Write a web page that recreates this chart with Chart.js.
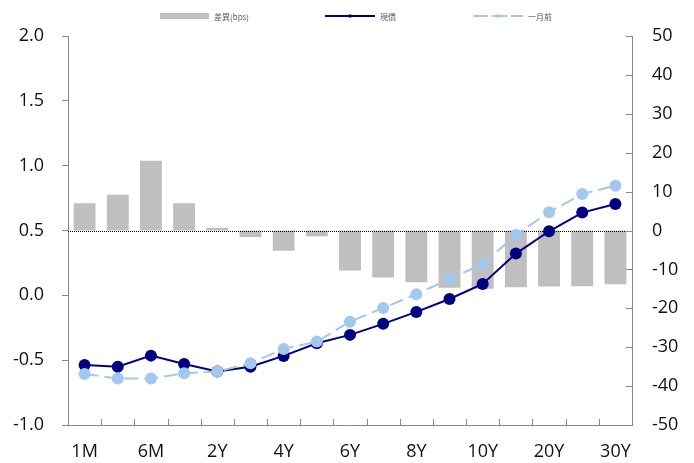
<!DOCTYPE html>
<html>
<head>
<meta charset="utf-8">
<script src="https://cdn.jsdelivr.net/npm/chart.js@4/dist/chart.umd.min.js"></script>
<style>
  html, body { margin: 0; padding: 0; background: #fff; }
  #wrap { position: relative; width: 694px; height: 463px; }
  #legend { position: absolute; top: 0; left: 0; width: 694px; height: 32px;
            font-family: "Noto Sans CJK TC", "Noto Sans", sans-serif; font-size: 8px; color: #595959; }
  .item { position: absolute; top: 9px; height: 14px; display: flex; align-items: center; }
  .item svg { margin-right: 5px; }
</style>
</head>
<body>
<div id="wrap">
  <canvas id="chart"></canvas>
  <div id="legend"></div>
</div>
<script>
// tenors and yields (%), spread in bps
const tenors = ["1M", "3M", "6M", "1Y", "2Y", "3Y", "4Y", "5Y", "6Y", "7Y", "8Y", "9Y", "10Y", "15Y", "20Y", "25Y", "30Y"];
const spreadBps = [7.0, 9.2, 17.9, 7.0, 0.7, -1.7, -5.2, -1.5, -10.3, -12.1, -13.3, -14.7, -15.0, -14.6, -14.4, -14.3, -13.8];
const currentYield = [-0.537, -0.550, -0.465, -0.529, -0.588, -0.550, -0.467, -0.370, -0.305, -0.220, -0.128, -0.028, 0.088, 0.322, 0.494, 0.638, 0.705];
const monthAgoYield = [-0.606, -0.642, -0.642, -0.600, -0.588, -0.524, -0.413, -0.357, -0.203, -0.097, 0.008, 0.127, 0.240, 0.466, 0.641, 0.782, 0.846];
const seriesNames = ["差異(bps)", "現價", "一月前"];

const AXIS = "#888888";
const FONT = { family: "'Open Sans', sans-serif", size: 18 };

// short ticks on the inner side of the right and bottom axes, plus the dotted zero line
const innerTicks = {
  id: "innerTicks",
  afterDatasetDraw(chart, args) {
    if (args.index !== 0) return;
    const { ctx, chartArea } = chart;
    const y0 = chart.scales.yR.getPixelForValue(0);
    ctx.save();
    ctx.strokeStyle = "#000";
    ctx.lineWidth = 1;
    ctx.setLineDash([1, 1]);
    ctx.beginPath();
    ctx.moveTo(chartArea.left, Math.round(y0) + 0.5);
    ctx.lineTo(chartArea.right, Math.round(y0) + 0.5);
    ctx.stroke();
    ctx.restore();
  },
  afterDraw(chart) {
    const { ctx } = chart;
    const x = chart.scales.x, yR = chart.scales.yR;
    ctx.save();
    ctx.strokeStyle = AXIS;
    ctx.lineWidth = 1;
    ctx.beginPath();
    for (let i = 0; i <= tenors.length; i++) {
      const px = Math.round(x.getPixelForValue(i - 0.5)) + 0.5;
      ctx.moveTo(px, x.top);
      ctx.lineTo(px, x.top - 6);
    }
    yR.ticks.forEach(t => {
      const py = Math.round(yR.getPixelForValue(t.value)) + 0.5;
      ctx.moveTo(yR.left, py);
      ctx.lineTo(yR.left - 6, py);
    });
    ctx.stroke();
    ctx.restore();
  }
};

const chart = new Chart(document.getElementById("chart"), {
  type: "bar",
  data: {
    labels: tenors,
    datasets: [
      {
        type: "bar",
        label: seriesNames[0],
        data: spreadBps,
        yAxisID: "yR",
        backgroundColor: "#BFBFBF",
        barPercentage: 0.66,
        categoryPercentage: 1,
        order: 3,
      },
      {
        type: "line",
        label: seriesNames[1],
        data: currentYield,
        yAxisID: "yL",
        borderColor: "#000080",
        backgroundColor: "#000080",
        borderWidth: 2,
        pointRadius: 6,
        pointBorderWidth: 0,
        tension: 0,
        order: 2,
      },
      {
        type: "line",
        label: seriesNames[2],
        data: monthAgoYield,
        yAxisID: "yL",
        borderColor: "#A3C8EE",
        backgroundColor: "#A3C8EE",
        borderWidth: 2,
        borderDash: [14, 6],
        pointRadius: 6,
        pointBorderWidth: 0,
        tension: 0,
        order: 1,
      },
    ],
  },
  options: {
    responsive: true,
    maintainAspectRatio: false,
    animation: false,
    layout: { padding: { top: 36 } },
    plugins: { legend: { display: false }, tooltip: { enabled: false } },
    scales: {
      x: {
        offset: true,
        grid: { display: false },
        border: { display: true, color: AXIS },
        ticks: {
          autoSkip: false,
          maxRotation: 0,
          padding: 8,
          color: "#111",
          font: FONT,
          callback: (v, i) => (i % 2 === 0 ? tenors[i] : ""),
        },
        afterFit: s => { s.height = 38; },
      },
      yL: {
        position: "left",
        min: -1,
        max: 2,
        grid: { display: true, drawOnChartArea: false, tickLength: 6, color: AXIS },
        border: { display: true, color: AXIS },
        ticks: { stepSize: 0.5, padding: 18, color: "#111", font: FONT, callback: v => v.toFixed(1) },
        afterFit: s => { s.width = 68; },
      },
      yR: {
        position: "right",
        min: -50,
        max: 50,
        grid: { display: false, drawTicks: false },
        border: { display: true, color: AXIS },
        ticks: { stepSize: 10, padding: 20, color: "#111", font: FONT },
        afterFit: s => { s.width = 62; },
      },
    },
  },
  plugins: [innerTicks],
});

// legend
const legendSymbols = [
  '<svg width="49" height="6"><rect x="0" y="0" width="49" height="6" fill="#BFBFBF"/></svg>',
  '<svg width="50" height="6"><line x1="0" y1="3" x2="50" y2="3" stroke="#000080" stroke-width="2"/><circle cx="25" cy="3" r="1.8" fill="#000080"/></svg>',
  '<svg width="50" height="6"><line x1="0" y1="3" x2="50" y2="3" stroke="#A3C8EE" stroke-width="2" stroke-dasharray="15,4"/><circle cx="25" cy="3" r="1.8" fill="#A3C8EE"/></svg>',
];
const legendLeft = [160, 325, 473];
const legend = document.getElementById("legend");
chart.data.datasets.forEach((ds, i) => {
  const el = document.createElement("div");
  el.className = "item";
  el.style.left = legendLeft[i] + "px";
  el.innerHTML = legendSymbols[i] + "<span>" + ds.label + "</span>";
  legend.appendChild(el);
});
</script>
</body>
</html>
